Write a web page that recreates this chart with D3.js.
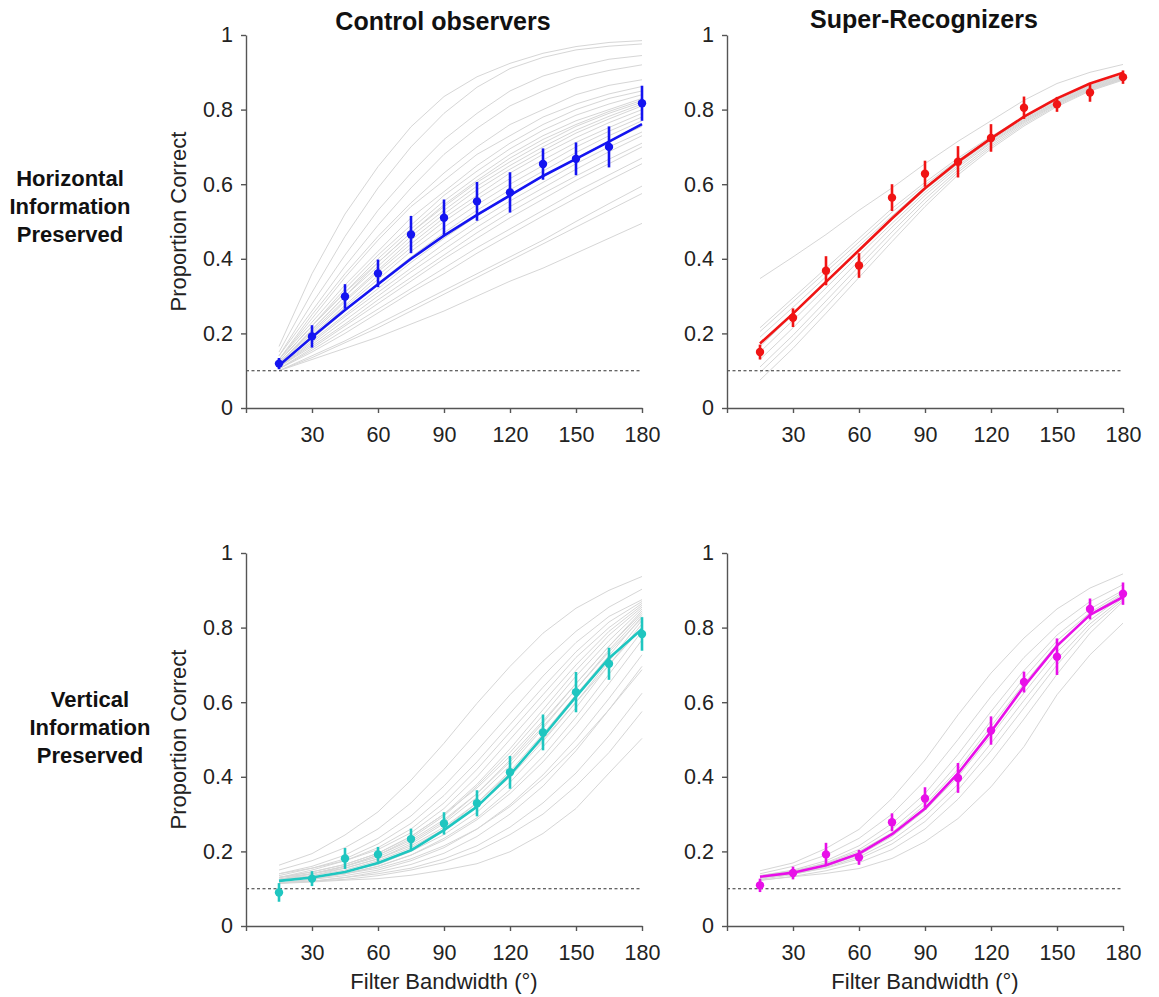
<!DOCTYPE html>
<html>
<head>
<meta charset="utf-8">
<script src="https://cdn.jsdelivr.net/npm/d3@7"></script>
<style>
  html, body { margin: 0; padding: 0; background: #fff; }
  svg { display: block; font-family: "Liberation Sans", Arial, Helvetica, sans-serif; }
</style>
</head>
<body>
<svg id="chart" width="1159" height="997"></svg>
<script>
// ---------------- DATA ----------------
const bandwidths = [15, 30, 45, 60, 75, 90, 105, 120, 135, 150, 165, 180];
const xTicks = [0, 30, 60, 90, 120, 150, 180];
const yTicks = [0, 0.2, 0.4, 0.6, 0.8, 1];
const chanceLevel = 0.1;
const columnTitles = ["Control observers", "Super-Recognizers"];
const rowTitles = [["Horizontal", "Information", "Preserved"], ["Vertical", "Information", "Preserved"]];
const yAxisLabel = "Proportion Correct";
const xAxisLabel = "Filter Bandwidth (°)";

// Control observers, horizontal information
const ctrlHorMean = [0.119, 0.192, 0.299, 0.361, 0.465, 0.510, 0.554, 0.578, 0.654, 0.668, 0.700, 0.817];
const ctrlHorErr  = [0.015, 0.030, 0.033, 0.037, 0.050, 0.049, 0.052, 0.054, 0.042, 0.044, 0.055, 0.047];
const ctrlHorFit  = [0.114, 0.190, 0.263, 0.332, 0.400, 0.462, 0.518, 0.570, 0.622, 0.668, 0.714, 0.761];
const ctrlHorSubjects = [
  [0.165,0.36,0.52,0.647,0.754,0.835,0.888,0.924,0.951,0.969,0.98,0.985],
  [0.15,0.31,0.46,0.59,0.70,0.79,0.86,0.91,0.94,0.96,0.97,0.976],
  [0.14,0.28,0.41,0.53,0.63,0.72,0.79,0.85,0.89,0.915,0.935,0.945],
  [0.14,0.26,0.38,0.49,0.59,0.68,0.75,0.81,0.85,0.885,0.905,0.92],
  [0.13,0.25,0.36,0.46,0.55,0.63,0.70,0.76,0.80,0.84,0.865,0.88],
  [0.13,0.24,0.35,0.45,0.54,0.61,0.68,0.73,0.78,0.815,0.842,0.862],
  [0.13,0.23,0.33,0.42,0.51,0.58,0.65,0.71,0.76,0.80,0.83,0.85],
  [0.125,0.22,0.32,0.41,0.49,0.57,0.635,0.695,0.745,0.785,0.815,0.84],
  [0.125,0.22,0.31,0.40,0.48,0.555,0.62,0.68,0.73,0.77,0.80,0.83],
  [0.12,0.21,0.30,0.39,0.47,0.545,0.61,0.67,0.72,0.76,0.795,0.825],
  [0.125,0.22,0.31,0.39,0.47,0.54,0.605,0.66,0.71,0.755,0.79,0.82],
  [0.12,0.21,0.30,0.38,0.46,0.53,0.595,0.65,0.70,0.745,0.782,0.815],
  [0.12,0.205,0.29,0.37,0.45,0.52,0.585,0.64,0.69,0.737,0.775,0.81],
  [0.12,0.20,0.285,0.365,0.44,0.51,0.57,0.63,0.68,0.725,0.765,0.80],
  [0.115,0.195,0.275,0.355,0.43,0.50,0.56,0.615,0.665,0.712,0.752,0.79],
  [0.115,0.19,0.27,0.345,0.42,0.485,0.545,0.60,0.65,0.70,0.742,0.78],
  [0.115,0.185,0.26,0.335,0.405,0.47,0.53,0.585,0.635,0.685,0.73,0.77],
  [0.11,0.18,0.25,0.32,0.39,0.455,0.515,0.57,0.62,0.67,0.715,0.755],
  [0.11,0.175,0.245,0.31,0.375,0.44,0.50,0.555,0.605,0.655,0.70,0.74],
  [0.11,0.17,0.235,0.30,0.365,0.425,0.485,0.54,0.59,0.64,0.687,0.73],
  [0.11,0.165,0.225,0.29,0.35,0.41,0.47,0.525,0.575,0.622,0.667,0.71],
  [0.105,0.16,0.22,0.28,0.34,0.40,0.455,0.51,0.56,0.61,0.655,0.70],
  [0.105,0.155,0.21,0.265,0.32,0.375,0.43,0.48,0.53,0.58,0.625,0.67],
  [0.105,0.15,0.20,0.255,0.31,0.36,0.415,0.465,0.515,0.563,0.61,0.655],
  [0.10,0.14,0.18,0.225,0.27,0.315,0.36,0.405,0.45,0.50,0.548,0.595],
  [0.10,0.135,0.175,0.215,0.26,0.305,0.35,0.395,0.44,0.485,0.53,0.575],
  [0.10,0.13,0.16,0.19,0.225,0.26,0.30,0.34,0.375,0.415,0.455,0.495]
];

// Super-Recognizers, horizontal information
const srHorMean = [0.150, 0.242, 0.368, 0.382, 0.564, 0.628, 0.660, 0.724, 0.805, 0.814, 0.846, 0.887];
const srHorErr  = [0.020, 0.025, 0.039, 0.033, 0.036, 0.035, 0.042, 0.037, 0.030, 0.020, 0.025, 0.018];
const srHorFit  = [0.173, 0.253, 0.338, 0.423, 0.508, 0.589, 0.660, 0.723, 0.781, 0.830, 0.870, 0.899];
const srHorSubjects = [
  [0.347,0.405,0.465,0.53,0.59,0.655,0.715,0.77,0.825,0.87,0.90,0.921],
  [0.215,0.295,0.375,0.455,0.535,0.605,0.67,0.728,0.78,0.827,0.865,0.893],
  [0.205,0.285,0.365,0.445,0.525,0.598,0.665,0.724,0.778,0.825,0.863,0.891],
  [0.19,0.27,0.352,0.435,0.515,0.592,0.66,0.72,0.775,0.822,0.861,0.889],
  [0.165,0.25,0.335,0.42,0.505,0.585,0.655,0.717,0.772,0.82,0.859,0.887],
  [0.15,0.235,0.322,0.41,0.495,0.578,0.65,0.713,0.77,0.818,0.857,0.885],
  [0.13,0.215,0.305,0.395,0.485,0.57,0.645,0.71,0.767,0.816,0.856,0.884],
  [0.11,0.195,0.287,0.38,0.472,0.56,0.638,0.705,0.764,0.814,0.854,0.882],
  [0.095,0.18,0.272,0.366,0.46,0.55,0.632,0.70,0.76,0.811,0.852,0.881],
  [0.075,0.16,0.254,0.35,0.446,0.54,0.625,0.695,0.756,0.808,0.85,0.879]
];

// Control observers, vertical information
const ctrlVerMean = [0.090, 0.127, 0.181, 0.192, 0.233, 0.275, 0.329, 0.412, 0.519, 0.627, 0.703, 0.783];
const ctrlVerErr  = [0.025, 0.020, 0.028, 0.020, 0.028, 0.030, 0.035, 0.044, 0.048, 0.054, 0.043, 0.045];
const ctrlVerFit  = [0.121, 0.130, 0.145, 0.169, 0.203, 0.257, 0.320, 0.405, 0.508, 0.615, 0.718, 0.796];
const ctrlVerSubjects = [
  [0.163,0.194,0.244,0.306,0.391,0.49,0.597,0.696,0.785,0.852,0.90,0.937],
  [0.15,0.175,0.21,0.26,0.33,0.42,0.52,0.62,0.71,0.79,0.855,0.903],
  [0.14,0.16,0.19,0.235,0.295,0.375,0.47,0.57,0.67,0.76,0.83,0.875],
  [0.135,0.155,0.18,0.22,0.275,0.35,0.44,0.54,0.64,0.735,0.815,0.87],
  [0.13,0.15,0.175,0.21,0.26,0.33,0.42,0.52,0.62,0.72,0.80,0.865],
  [0.14,0.155,0.175,0.205,0.25,0.315,0.40,0.50,0.60,0.70,0.79,0.86],
  [0.13,0.145,0.165,0.195,0.24,0.30,0.38,0.475,0.58,0.685,0.78,0.855],
  [0.13,0.14,0.16,0.19,0.235,0.295,0.375,0.465,0.565,0.67,0.765,0.85],
  [0.125,0.14,0.16,0.185,0.225,0.28,0.355,0.445,0.545,0.65,0.75,0.845],
  [0.13,0.145,0.165,0.195,0.24,0.30,0.37,0.455,0.55,0.65,0.75,0.84],
  [0.125,0.135,0.155,0.18,0.22,0.275,0.345,0.43,0.53,0.635,0.74,0.835],
  [0.12,0.135,0.15,0.175,0.21,0.26,0.33,0.415,0.515,0.62,0.725,0.83],
  [0.125,0.14,0.16,0.19,0.23,0.285,0.355,0.44,0.535,0.635,0.735,0.825],
  [0.12,0.13,0.145,0.17,0.205,0.255,0.32,0.40,0.495,0.60,0.71,0.82],
  [0.12,0.13,0.145,0.165,0.20,0.245,0.305,0.385,0.48,0.585,0.70,0.81],
  [0.125,0.14,0.155,0.18,0.215,0.265,0.33,0.41,0.50,0.60,0.70,0.80],
  [0.115,0.125,0.14,0.16,0.19,0.235,0.29,0.365,0.455,0.56,0.675,0.79],
  [0.12,0.13,0.14,0.16,0.19,0.23,0.285,0.355,0.44,0.54,0.65,0.767],
  [0.115,0.125,0.135,0.15,0.175,0.21,0.26,0.325,0.405,0.50,0.61,0.727],
  [0.115,0.12,0.13,0.145,0.165,0.195,0.24,0.30,0.375,0.47,0.58,0.696],
  [0.12,0.13,0.14,0.155,0.18,0.215,0.26,0.32,0.395,0.48,0.58,0.687],
  [0.115,0.12,0.13,0.14,0.155,0.18,0.215,0.265,0.33,0.41,0.51,0.624],
  [0.115,0.12,0.125,0.135,0.15,0.17,0.20,0.245,0.30,0.375,0.465,0.575],
  [0.114,0.118,0.123,0.127,0.136,0.15,0.167,0.199,0.248,0.315,0.41,0.503]
];

// Super-Recognizers, vertical information
const srVerMean = [0.109, 0.142, 0.192, 0.184, 0.278, 0.342, 0.397, 0.524, 0.654, 0.722, 0.850, 0.891];
const srVerErr  = [0.018, 0.017, 0.031, 0.020, 0.024, 0.030, 0.040, 0.038, 0.028, 0.049, 0.028, 0.030];
const srVerFit  = [0.132, 0.143, 0.163, 0.194, 0.246, 0.315, 0.409, 0.521, 0.642, 0.751, 0.834, 0.882];
const srVerSubjects = [
  [0.148,0.169,0.208,0.259,0.342,0.445,0.566,0.678,0.772,0.85,0.906,0.944],
  [0.14,0.16,0.19,0.235,0.30,0.39,0.50,0.615,0.72,0.805,0.87,0.915],
  [0.135,0.15,0.175,0.215,0.275,0.355,0.46,0.575,0.685,0.78,0.85,0.90],
  [0.13,0.145,0.17,0.205,0.26,0.335,0.435,0.55,0.665,0.765,0.84,0.895],
  [0.135,0.148,0.168,0.20,0.25,0.325,0.42,0.535,0.65,0.755,0.835,0.89],
  [0.128,0.14,0.16,0.19,0.24,0.31,0.40,0.51,0.625,0.735,0.82,0.885],
  [0.125,0.138,0.157,0.185,0.23,0.295,0.38,0.49,0.605,0.715,0.81,0.88],
  [0.13,0.14,0.155,0.18,0.22,0.28,0.365,0.47,0.585,0.70,0.80,0.875],
  [0.122,0.133,0.148,0.17,0.205,0.26,0.34,0.44,0.555,0.675,0.785,0.87],
  [0.123,0.132,0.141,0.154,0.181,0.226,0.288,0.373,0.481,0.62,0.727,0.812]
];

// ---------------- LAYOUT ----------------
const svg = d3.select("#chart");
const colLeft = [246, 727];
const plotW = 396;
const rowTop = [35, 553];
const plotH = 373;

const panels = [
  { row: 0, col: 0, mean: ctrlHorMean, err: ctrlHorErr, fit: ctrlHorFit, subj: ctrlHorSubjects, color: "#1414f0" },
  { row: 0, col: 1, mean: srHorMean,   err: srHorErr,   fit: srHorFit,   subj: srHorSubjects,   color: "#f01414" },
  { row: 1, col: 0, mean: ctrlVerMean, err: ctrlVerErr, fit: ctrlVerFit, subj: ctrlVerSubjects, color: "#1fc6c0" },
  { row: 1, col: 1, mean: srVerMean,   err: srVerErr,   fit: srVerFit,   subj: srVerSubjects,   color: "#e810e8" }
];

const axisColor = "#555";
const textColor = "#222";

panels.forEach(p => {
  const x = d3.scaleLinear().domain([0, 180]).range([0, plotW]);
  const y = d3.scaleLinear().domain([0, 1]).range([plotH, 0]);
  const g = svg.append("g").attr("transform", `translate(${colLeft[p.col]},${rowTop[p.row]})`);

  const line = d3.line().x((d, i) => x(bandwidths[i])).y(d => y(d));

  // individual observers
  g.append("g").selectAll("path").data(p.subj).join("path")
    .attr("d", line).attr("fill", "none")
    .attr("stroke", "#d6d6d6").attr("stroke-width", 1);

  // chance level
  g.append("line")
    .attr("x1", x(0)).attr("x2", x(180))
    .attr("y1", y(chanceLevel)).attr("y2", y(chanceLevel))
    .attr("stroke", "#333").attr("stroke-width", 1.1).attr("stroke-dasharray", "3,2.5");

  // axes
  const yAxis = d3.axisLeft(y).tickValues(yTicks).tickSize(5).tickSizeOuter(0).tickPadding(8)
    .tickFormat(d => (d === 0 || d === 1) ? String(d) : d.toFixed(1));
  const xAxis = d3.axisBottom(x).tickValues(xTicks).tickSize(5).tickSizeOuter(0).tickPadding(14)
    .tickFormat(d => d === 0 ? "" : String(d));
  const ga = g.append("g").call(yAxis);
  const gb = g.append("g").attr("transform", `translate(0,${plotH})`).call(xAxis);
  [ga, gb].forEach(a => {
    a.select(".domain").attr("stroke", axisColor).attr("stroke-width", 1.4);
    a.selectAll(".tick line").attr("stroke", axisColor).attr("stroke-width", 1.4);
    a.selectAll(".tick text").attr("fill", textColor).style("font-size", "21.5px")
      .style("font-family", '"Liberation Sans", Arial, sans-serif');
  });

  // group fit
  g.append("path").datum(p.fit).attr("d", line).attr("fill", "none")
    .attr("stroke", p.color).attr("stroke-width", 2.6).attr("stroke-linejoin", "round");

  // error bars
  g.append("g").selectAll("line").data(p.mean).join("line")
    .attr("x1", (d, i) => x(bandwidths[i])).attr("x2", (d, i) => x(bandwidths[i]))
    .attr("y1", (d, i) => y(d - p.err[i])).attr("y2", (d, i) => y(d + p.err[i]))
    .attr("stroke", p.color).attr("stroke-width", 2.6);

  // means
  g.append("g").selectAll("circle").data(p.mean).join("circle")
    .attr("cx", (d, i) => x(bandwidths[i])).attr("cy", d => y(d))
    .attr("r", 4.2).attr("fill", p.color);

  // y label (left column only)
  if (p.col === 0) {
    g.append("text")
      .attr("transform", `translate(-60,${plotH / 2}) rotate(-90)`)
      .attr("text-anchor", "middle")
      .attr("fill", textColor).style("font-size", "22px")
      .text(yAxisLabel);
  }

  if (p.row === 1) {
    g.append("text")
      .attr("x", plotW / 2).attr("y", plotH + 63)
      .attr("text-anchor", "middle")
      .attr("fill", textColor).style("font-size", "22px")
      .text(xAxisLabel);
  }
});

// column titles
const titleY = [30, 28];
columnTitles.forEach((t, i) => {
  svg.append("text")
    .attr("x", colLeft[i] + plotW / 2 - 1).attr("y", titleY[i])
    .attr("text-anchor", "middle")
    .attr("fill", "#111").style("font-size", "25px").style("font-weight", "bold")
    .text(t);
});

// row titles
const rowCenterX = [70, 90];
const rowBaseY = [186, 707];
rowTitles.forEach((lines, r) => {
  const t = svg.append("text")
    .attr("text-anchor", "middle")
    .attr("fill", "#111").style("font-size", "22px").style("font-weight", "bold");
  lines.forEach((s, k) => {
    t.append("tspan").attr("x", rowCenterX[r]).attr("y", rowBaseY[r] + k * 28).text(s);
  });
});
</script>
</body>
</html>
